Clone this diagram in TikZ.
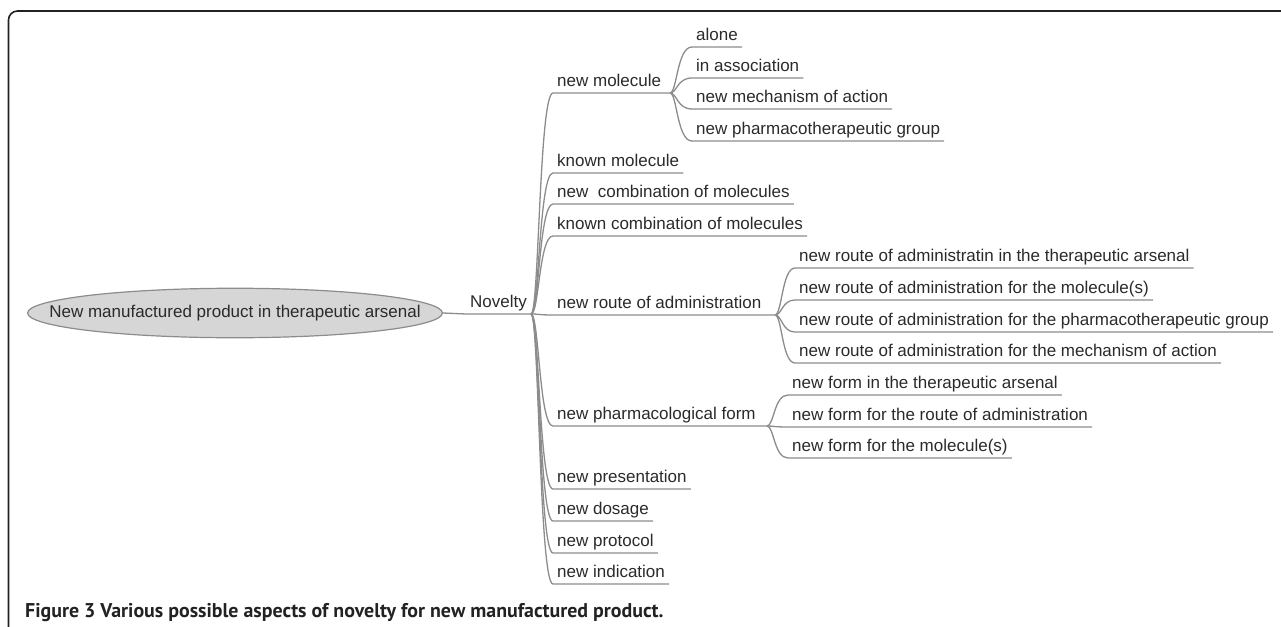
\documentclass[tikz,border=0pt]{standalone}
\usepackage{fontspec}
\setmainfont{Liberation Sans}
\newfontfamily\capfont{PT Sans}
\usetikzlibrary{shapes.geometric,calc}
\definecolor{linec}{HTML}{8C8C8C}
\definecolor{textc}{HTML}{2A2A2A}
\definecolor{ellfill}{HTML}{D6D6D6}
\definecolor{ellline}{HTML}{8C8C8C}
\definecolor{framec}{HTML}{222222}
\newcommand\lblfont{\fontsize{17}{20}\selectfont}
\newcommand\mybranch[3]{\draw[conn] (#1) .. controls ($(#1)+(#3,0)$) and ($(#1 |- #2.south west)+(#3,0)$) .. (#2.south west) -- (#2.south east);}
\tikzset{
  lbl/.style={anchor=south west, inner xsep=4pt, inner ysep=2pt, text height=12.5pt, text depth=4.5pt, font=\lblfont, text=textc},
  conn/.style={draw=linec, line width=1.3pt},
  root/.style={ellipse, draw=ellline, fill=ellfill, line width=1.2pt, inner xsep=-39pt, inner ysep=9pt, text height=12.5pt, text depth=4.5pt, font=\lblfont, text=textc},
  frame/.style={draw=framec, line width=1.6pt, rounded corners=9pt},
  caption/.style={anchor=base west, inner sep=0pt, font=\capfont\bfseries\fontsize{19.9}{23}\selectfont, text=framec}
}
\begin{document}
\begin{tikzpicture}[x=1pt,y=-1pt]
\useasboundingbox (0,0) rectangle (1281,626);
\draw[frame] (8.5,640) -- (8.5,11) -- (1290,11);

\node[root] (root) at (235,313) {New manufactured product in therapeutic arsenal};
\node[lbl] (nov) at (466,314) {Novelty};
\coordinate (hubN) at (nov.south east);
\draw[conn] (root.east) -- (nov.south west) -- (nov.south east);

% level 1
\node[lbl] (nm)  at (553,93)  {new molecule};
\node[lbl] (km)  at (553,173) {known molecule};
\node[lbl] (nc)  at (553,204) {new\ \ combination of molecules};
\node[lbl] (kc)  at (553,236) {known combination of molecules};
\node[lbl] (nr)  at (553,315) {new route of administration};
\node[lbl] (nf)  at (553,426) {new pharmacological form};
\node[lbl] (np)  at (553,489) {new presentation};
\node[lbl] (nd)  at (553,521) {new dosage};
\node[lbl] (npr) at (553,553) {new protocol};
\node[lbl] (ni)  at (553,584) {new indication};

\coordinate (hubM) at (670,93);
\coordinate (hubR) at (775,315);
\coordinate (hubF) at (767,426);

\draw[conn] (hubN) .. controls ($(hubN)+(8,0)$) and ($(hubN |- nm.south west)+(8,0)$) .. (nm.south west) -- (hubM);
\draw[conn] (hubN) .. controls ($(hubN)+(8,0)$) and ($(hubN |- nr.south west)+(8,0)$) .. (nr.south west) -- (hubR);
\draw[conn] (hubN) .. controls ($(hubN)+(8,0)$) and ($(hubN |- nf.south west)+(8,0)$) .. (nf.south west) -- (hubF);
\mybranch{hubN}{km}{8}
\mybranch{hubN}{nc}{8}
\mybranch{hubN}{kc}{8}
\mybranch{hubN}{np}{8}
\mybranch{hubN}{nd}{8}
\mybranch{hubN}{npr}{8}
\mybranch{hubN}{ni}{8}

% new molecule children
\node[lbl] (m1) at (692,47)  {alone};
\node[lbl] (m2) at (692,78)  {in association};
\node[lbl] (m3) at (692,109) {new mechanism of action};
\node[lbl] (m4) at (692,141) {new pharmacotherapeutic group};
\mybranch{hubM}{m1}{7}
\mybranch{hubM}{m2}{7}
\mybranch{hubM}{m3}{7}
\mybranch{hubM}{m4}{7}

% new route children
\node[lbl] (r1) at (795,268) {new route of administratin in the therapeutic arsenal};
\node[lbl] (r2) at (795,300) {new route of administration for the molecule(s)};
\node[lbl] (r3) at (795,332) {new route of administration for the pharmacotherapeutic group};
\node[lbl] (r4) at (795,363) {new route of administration for the mechanism of action};
\mybranch{hubR}{r1}{7}
\mybranch{hubR}{r2}{7}
\mybranch{hubR}{r3}{7}
\mybranch{hubR}{r4}{7}

% new form children
\node[lbl] (f1) at (788,395) {new form in the therapeutic arsenal};
\node[lbl] (f2) at (788,427) {new form for the route of administration};
\node[lbl] (f3) at (788,458) {new form for the molecule(s)};
\mybranch{hubF}{f1}{7}
\mybranch{hubF}{f2}{7}
\mybranch{hubF}{f3}{7}

\node[caption] (cap) at (25,617) {Figure 3 Various possible aspects of novelty for new manufactured product.};
\end{tikzpicture}
\end{document}
